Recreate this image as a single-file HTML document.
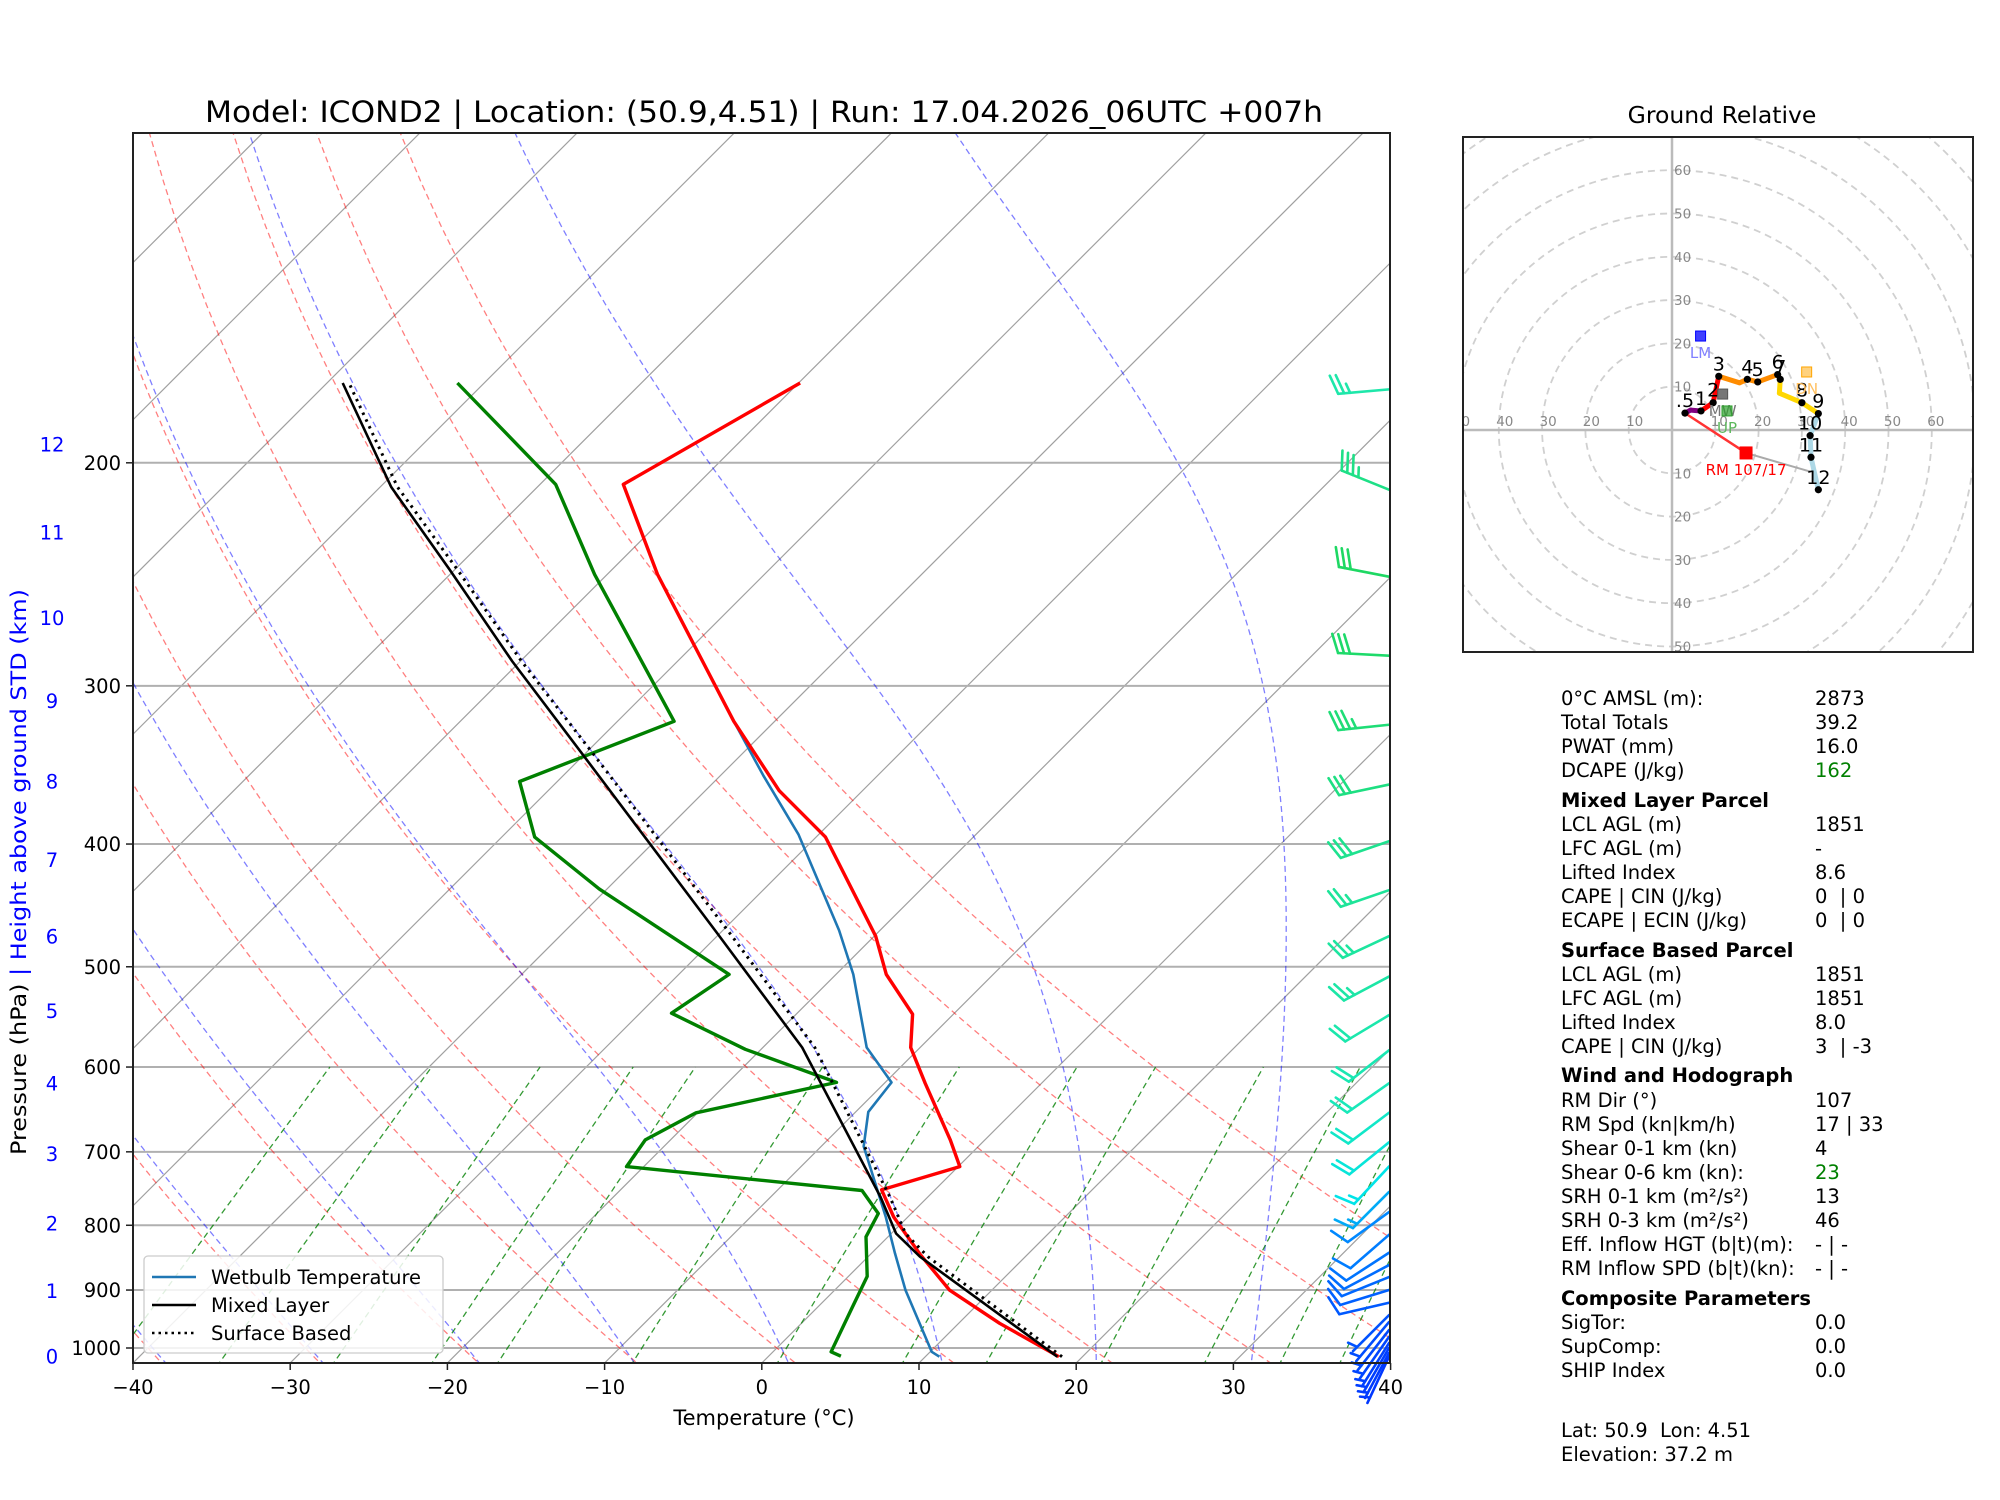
<!DOCTYPE html>
<html><head><meta charset="utf-8"><title>Skew-T ICOND2</title>
<style>
html,body{margin:0;padding:0;background:#fff;}
svg{display:block;font-family:"DejaVu Sans","Liberation Sans",sans-serif;}
#panel text{white-space:pre;}
</style></head>
<body>
<svg id="fig" xmlns="http://www.w3.org/2000/svg" width="2000" height="1500" viewBox="0 0 2000 1500">
<defs><clipPath id="plotclip"><rect x="133" y="133" width="1257" height="1230"/></clipPath>
<clipPath id="hodoclip"><rect x="1463" y="137" width="510" height="515"/></clipPath></defs>
<rect x="0" y="0" width="2000" height="1500" fill="#fff"/>
<text x="764" y="122" font-size="29" text-anchor="middle" textLength="1118" lengthAdjust="spacingAndGlyphs">Model: ICOND2 | Location: (50.9,4.51) | Run: 17.04.2026_06UTC +007h</text>
<g id="bg" clip-path="url(#plotclip)"></g>
<g id="prof" clip-path="url(#plotclip)"></g>
<g id="barbs"></g>
<rect x="133" y="133" width="1257" height="1230" fill="none" stroke="#222" stroke-width="2"/>
<g id="axes"></g>
<text x="764" y="1425" font-size="21" text-anchor="middle">Temperature (°C)</text>
<text transform="translate(26,872) rotate(-90)" font-size="21" text-anchor="middle" textLength="566" lengthAdjust="spacingAndGlyphs"><tspan fill="#000">Pressure (hPa)</tspan><tspan fill="#0000ff">   |   Height above ground STD (km)</tspan></text>
<g id="legend">
<rect x="144" y="1256" width="299" height="97" rx="4" fill="#fff" fill-opacity="0.85" stroke="#ccc" stroke-width="1.3"/>
<line x1="152" y1="1277" x2="196" y2="1277" stroke="#1f77b4" stroke-width="2.5"/>
<text x="211" y="1284" font-size="19.5">Wetbulb Temperature</text>
<line x1="152" y1="1305" x2="196" y2="1305" stroke="#000" stroke-width="2.5"/>
<text x="211" y="1312" font-size="19.5">Mixed Layer</text>
<line x1="152" y1="1333" x2="196" y2="1333" stroke="#000" stroke-width="2.5" stroke-dasharray="2.5,4"/>
<text x="211" y="1340" font-size="19.5">Surface Based</text>
</g>
<text x="1722" y="123" font-size="23.5" text-anchor="middle">Ground Relative</text>
<g id="hodo"></g>
<rect x="1463" y="137" width="510" height="515" fill="none" stroke="#222" stroke-width="2"/>
<g id="panel" font-size="19.5"></g>
</svg>
<script>
// ---------- data ----------
const tempP = [1016,956,900,844,788,750,719,685,618,579,545,507,473,395,363,320,280,245,208,173];
const tempT = [18.5,12.6,7.3,3.2,-0.9,-3.4,0.1,-2.2,-7.4,-10.6,-12.6,-16.8,-19.9,-29.4,-35.3,-42.6,-49.7,-56.8,-64.7,-59.9];
const dewP = [1015,1007,928,878,817,783,751,719,685,652,617,581,544,507,434,395,357,320,245,208,173];
const dewT = [4.6,3.7,2.2,1.2,-1.4,-2.1,-4.6,-21.1,-21.6,-20.1,-13.1,-21.0,-28.0,-26.8,-40.5,-47.9,-52.4,-46.4,-60.8,-69.0,-81.7];
const wetP = [1016,1007,900,842,788,693,651,617,579,507,468,393,353,320,280];
const wetT = [10.9,10.1,4.5,1.5,-1.4,-7.3,-9.2,-9.6,-13.4,-18.9,-22.6,-31.3,-37.3,-42.6,-49.7];
const parcelP = [1016,847,812,760,579,471,341,287,243,209,173];
const mlT = [18.4,3.3,0.3,-3.0,-17.5,-30.1,-49.9,-60.5,-70.3,-79.3,-89.0];
const sbT = [18.7,3.8,0.9,-2.4,-16.7,-29.3,-49.2,-59.9,-69.8,-78.9,-88.6];
const pressureTicks = [200,300,400,500,600,700,800,900,1000];
const tempTicks = [-40,-30,-20,-10,0,10,20,30,40];
const heightTicks = [0,1,2,3,4,5,6,7,8,9,10,11,12];
const barbP = [175,210,246,284,322,359,398,435,473,509,546,582,618,652,688,719,753,781,814,841,860,879,900,921,942,954,968,980,991,1000,1009,1016];
const barbDir = [265,292,281,273,264,258,251,251,245,242,239,232,235,233,231,223,225,234,229,237,242,248,253,257,225,220,218,215,212,210,208,205];
const barbSpd = [25,35,30,30,35,30,30,25,25,25,20,20,20,20,20,15,15,10,10,10,10,10,10,10,5,5,5,5,5,5,5,5];
const hodoU = [3.0,4.3,6.7,9.5,10.8,15.6,17.4,19.8,24.4,25.0,24.8,30.0,33.8,31.9,32.1,33.8];
const hodoV = [3.9,4.6,4.4,6.3,12.4,10.9,11.7,11.1,12.8,11.7,8.5,6.3,3.8,-1.3,-6.3,-13.8];
const hodoLabels = [".5","","1","2","3","","4","5","6","7","","8","9","10","11","12"];
const hodoSegColor = ["#800080","#800080","#ff0000","#ff0000","#ff8c00","#ff8c00","#ff8c00","#ff8c00","#ffd700","#ffd700","#ffd700","#ffd700","#add8e6","#add8e6","#add8e6"];
const rmU = 17.1, rmV = -5.3, lmU = 6.6, lmV = 21.7, mwU = 11.7, mwV = 8.3, upU = 12.7, upV = 4.4, dnU = 31.1, dnV = 13.4, devU = 31.9, devV = -9.6;

// ---------- scales ----------
const NS = "http://www.w3.org/2000/svg";
function Y(p){ return 1348 - 550*Math.log(1000/p); }
function X(T,p){ return 133 + (T+40)*15.72 + (1363 - Y(p)); }
const HK = 4.33;
function HX(u){ return 1672 + u*HK; }
function HY(v){ return 430 - v*HK; }
function mk(tag, attrs, parent){ const e=document.createElementNS(NS,tag); for(const k in attrs) e.setAttribute(k,attrs[k]); parent.appendChild(e); return e; }
const bg=document.getElementById('bg'), prof=document.getElementById('prof'), axes=document.getElementById('axes'), barbs=document.getElementById('barbs'), hodo=document.getElementById('hodo'), panel=document.getElementById('panel');

// ---------- background ----------
function pathFrom(pts){ return pts.map((q,i)=>(i?'L':'M')+q[0].toFixed(1)+','+q[1].toFixed(1)).join(''); }
for(let T=-130; T<=40; T+=10){
  const el=mk('line',{x1:X(T,1100),y1:Y(1100),x2:X(T,100),y2:Y(100),stroke:'#a0a0a0','stroke-width':1.2},bg);
  
  
}
for(let p=100; p<=1000; p+=100){
  const el=mk('line',{x1:133,y1:Y(p),x2:1390,y2:Y(p),stroke:'#b0b0b0','stroke-width':2},bg);
  
  
}
for(let th=-40; th<=50; th+=10){
  const pts=[]; for(let p=1050;p>=100;p-=10){ const T=(th+273.15)*Math.pow(p/1000,0.2857)-273.15; pts.push([X(T,p),Y(p)]); }
  const el=mk('path',{d:pathFrom(pts),fill:'none',stroke:'#ff0000','stroke-opacity':0.5,'stroke-width':1.3,'stroke-dasharray':'6,4'},bg);
  
  
}
function moistLapse(T,p){ const es=6.112*Math.exp(17.67*(T-273.15)/(T-29.65)); const rs=0.622*es/(p-es); const Rd=287.04,Lv=2.501e6,Cp=1005.7; return (Rd*T+Lv*rs)/(p*(Cp+Lv*Lv*rs*0.622/(Rd*T*T))); }
for(let k=-5; k<=4; k++){
  const t0=0.3+10*k;
  const up=[]; let T=t0+273.15;
  for(let p=1000;p>=100;p-=5){ up.push([X(T-273.15,p),Y(p)]); const k1=moistLapse(T,p); const k2=moistLapse(T-5*k1,p-5); T-=5*(k1+k2)/2; }
  let T2=t0+273.15; const dn=[];
  for(let p=1000;p<=1060;p+=5){ dn.unshift([X(T2-273.15,p),Y(p)]); T2+=5*moistLapse(T2,p); }
  const el=mk('path',{d:pathFrom(dn.concat(up)),fill:'none',stroke:'#0000ff','stroke-opacity':0.5,'stroke-width':1.3,'stroke-dasharray':'6,4'},bg);
  
  
}
[0.1,0.2,0.4,0.7,1,2,4,7,10,16,24,32,40].forEach(w=>{
  const pts=[]; for(let p=1050;p>=600;p-=10){ const wk=w/1000; const e=wk*p/(0.622+wk); const l=Math.log(e/6.112); const Td=243.5*l/(17.67-l); pts.push([X(Td,p),Y(p)]); }
  const el=mk('path',{d:pathFrom(pts),fill:'none',stroke:'#008000','stroke-opacity':0.8,'stroke-width':1.3,'stroke-dasharray':'6,4'},bg);
  
  
});

// ---------- profiles ----------
function profile(P,T,attrs,name){
  const el=mk('path',Object.assign({d:pathFrom(P.map((p,i)=>[X(T[i],p),Y(p)])),fill:'none','stroke-linejoin':'round'},attrs),prof);
  
  
}
profile(wetP,wetT,{stroke:'#1f77b4','stroke-width':2.6},'wetbulb-line');
profile(tempP,tempT,{stroke:'#ff0000','stroke-width':3.4},'temperature-line');
profile(dewP,dewT,{stroke:'#008000','stroke-width':3.4},'dewpoint-line');
profile(parcelP,mlT,{stroke:'#000','stroke-width':2.6},'mixed-layer-parcel-line');
profile(parcelP,sbT,{stroke:'#000','stroke-width':3,'stroke-dasharray':'2.5,5'},'surface-based-parcel-line');

// ---------- axes ----------
pressureTicks.forEach(p=>{
  const t=mk('line',{x1:126,y1:Y(p),x2:133,y2:Y(p),stroke:'#222','stroke-width':1.5},axes);
  
  
  const l=mk('text',{x:121,y:Y(p)+7,'font-size':19.5,'text-anchor':'end'},axes); l.textContent=p;
  
  
});
tempTicks.forEach(T=>{
  const x=133+(T+40)*15.72;
  const t=mk('line',{x1:x,y1:1363,x2:x,y2:1370,stroke:'#222','stroke-width':1.5},axes);
  
  
  const l=mk('text',{x:x,y:1394,'font-size':19.5,'text-anchor':'middle'},axes); l.textContent=(T<0?'\u2212':'')+Math.abs(T);
  
  
});
heightTicks.forEach(h=>{
  const p=1016*Math.pow(1-2.2557e-5*h*1000,5.256);
  const l=mk('text',{x:52,y:Y(p)+7,'font-size':19.5,'text-anchor':'middle',fill:'#0000ff'},axes); l.textContent=h;
  
  
});

// ---------- barbs ----------
function lerp(a,b,t){return a+(b-a)*t;}
function barbColor(p){
  const stops=[[170,[30,232,175]],[250,[30,215,95]],[420,[30,228,150]],[620,[25,232,185]],[720,[0,228,232]],[770,[0,140,255]],[1020,[0,55,255]]];
  for(let i=0;i<stops.length-1;i++){ if(p<=stops[i+1][0]){ const t=Math.max(0,(p-stops[i][0])/(stops[i+1][0]-stops[i][0])); const a=stops[i][1],b=stops[i+1][1]; return 'rgb('+Math.round(lerp(a[0],b[0],t))+','+Math.round(lerp(a[1],b[1],t))+','+Math.round(lerp(a[2],b[2],t))+')'; } }
  return 'rgb(0,55,255)';
}
barbP.forEach((p,i)=>{
  const g=mk('g',{stroke:barbColor(p),'stroke-width':2.6,fill:'none','stroke-linecap':'round'},barbs);
  
  
  const ox=1389, oy=Y(p), L=51, d=barbDir[i]*Math.PI/180;
  const sx=Math.sin(d), sy=-Math.cos(d);
  const ex=ox+sx*L, ey=oy+sy*L;
  mk('line',{x1:ox,y1:oy,x2:ex,y2:ey},g);
  const px=-sy, py=sx;
  const fx=0.94*px+0.34*sx, fy=0.94*py+0.34*sy;
  let spd=barbSpd[i], pos=0;
  const full=Math.floor(spd/10); const half=(spd%10)>=5?1:0;
  if(full===0 && half){ pos=6; }
  for(let k=0;k<full;k++){ const bx=ex-sx*pos, by=ey-sy*pos; mk('line',{x1:bx,y1:by,x2:bx+fx*20,y2:by+fy*20},g); pos+=6; }
  if(half){ const bx=ex-sx*pos, by=ey-sy*pos; mk('line',{x1:bx,y1:by,x2:bx+fx*10,y2:by+fy*10},g); }
});

// ---------- hodograph ----------
const hg=mk('g',{'clip-path':'url(#hodoclip)'},hodo);


for(let r=10;r<=90;r+=10){
  const c=mk('circle',{cx:HX(0),cy:HY(0),r:r*HK,fill:'none',stroke:'#d0d0d0','stroke-width':1.8,'stroke-dasharray':'7,5'},hg);
  
  
}
let ax1=mk('line',{x1:1463,y1:HY(0),x2:1973,y2:HY(0),stroke:'#bbbbbb','stroke-width':2.5},hg);


let ax2=mk('line',{x1:HX(0),y1:137,x2:HX(0),y2:652,stroke:'#bbbbbb','stroke-width':2.5},hg);


for(let r=10;r<=70;r+=10){
  [[HX(r)+4,HY(0)-4],[HX(-r)+6,HY(0)-4]].forEach(q=>{ const t=mk('text',{x:q[0],y:q[1],'font-size':13.5,fill:'#888','text-anchor':'middle'},hg); t.textContent=r;
    
     });
  if(r<=60){ const t=mk('text',{x:HX(0)+2,y:HY(r)+5,'font-size':13.5,fill:'#888'},hg); t.textContent=r;
    
     }
  if(r<=50){ const t=mk('text',{x:HX(0)+2,y:HY(-r)+5,'font-size':13.5,fill:'#888'},hg); t.textContent=r;
    
     }
}
let rl=mk('line',{x1:HX(hodoU[0]),y1:HY(hodoV[0]),x2:HX(rmU),y2:HY(rmV),stroke:'#ff3333','stroke-width':2.5},hg);


let gl=mk('line',{x1:HX(rmU),y1:HY(rmV),x2:HX(devU),y2:HY(devV),stroke:'#aaaaaa','stroke-width':2},hg);


for(let i=0;i<hodoU.length-1;i++){
  const s=mk('line',{x1:HX(hodoU[i]),y1:HY(hodoV[i]),x2:HX(hodoU[i+1]),y2:HY(hodoV[i+1]),stroke:hodoSegColor[i],'stroke-width':5,'stroke-linecap':'round'},hg);
  
  
}
hodoU.forEach((u,i)=>{
  if(hodoLabels[i]==='' && i!==0) return;
  const c=mk('circle',{cx:HX(u),cy:HY(hodoV[i]),r:3.6,fill:'#000'},hg);
  
  
  if(hodoLabels[i]){ const t=mk('text',{x:HX(u),y:HY(hodoV[i])-6,'font-size':19,'text-anchor':'middle'},hg); t.textContent=hodoLabels[i];
    
     }
});
function marker(u,v,fill,op,size,label,lcol,name){
  const r=mk('rect',{x:HX(u)-size/2,y:HY(v)-size/2,width:size,height:size,fill:fill,'fill-opacity':op,stroke:fill,'stroke-width':1},hg);
  
  
  const t=mk('text',{x:HX(u),y:HY(v)+22,'font-size':15,'text-anchor':'middle',fill:lcol},hg); t.textContent=label;
  
  
}
marker(lmU,lmV,'#0000ff',0.75,10,'LM','#8080ff','left-mover');
marker(mwU,mwV,'#555',0.8,10,'MW','#777','mean-wind');
marker(upU,upV,'#2ca02c',0.7,10,'UP','#5cb85c','upshear');
marker(dnU,dnV,'#ffa500',0.5,10,'DN','#ffc060','downshear');
marker(rmU,rmV,'#ff0000',1,12,'RM 107/17','#ff0000','right-mover');

// ---------- parameter panel ----------
const rows=[
 [705,'0°C AMSL (m):','2873'],[729,'Total Totals','39.2'],[753,'PWAT (mm)','16.0'],[777,'DCAPE (J/kg)','162','#008000'],
 [807,'Mixed Layer Parcel',null],[831,'LCL AGL (m)','1851'],[855,'LFC AGL (m)','-'],[879,'Lifted Index','8.6'],[903,'CAPE | CIN (J/kg)','0  | 0'],[927,'ECAPE | ECIN (J/kg)','0  | 0'],
 [957,'Surface Based Parcel',null],[981,'LCL AGL (m)','1851'],[1005,'LFC AGL (m)','1851'],[1029,'Lifted Index','8.0'],[1053,'CAPE | CIN (J/kg)','3  | -3'],
 [1082,'Wind and Hodograph',null],[1107,'RM Dir (°)','107'],[1131,'RM Spd (kn|km/h)','17 | 33'],[1155,'Shear 0-1 km (kn)','4'],[1179,'Shear 0-6 km (kn):','23','#008000'],
 [1203,'SRH 0-1 km (m²/s²)','13'],[1227,'SRH 0-3 km (m²/s²)','46'],[1251,'Eff. Inflow HGT (b|t)(m):','- | -'],[1275,'RM Inflow SPD (b|t)(kn):','- | -'],
 [1305,'Composite Parameters',null],[1329,'SigTor:','0.0'],[1353,'SupComp:','0.0'],[1377,'SHIP Index','0.0'],
 [1437,'Lat: 50.9  Lon: 4.51',''],[1461,'Elevation: 37.2 m','']
];
rows.forEach(r=>{
  const t=mk('text',{x:1561,y:r[0],'font-weight':r[2]===null?'bold':'normal'},panel); t.textContent=r[1];
  
  
  if(r[2]){ const v=mk('text',{x:1815,y:r[0],fill:r[3]||'#000'},panel); v.textContent=r[2];
    
     }
});
</script>
</body></html>
